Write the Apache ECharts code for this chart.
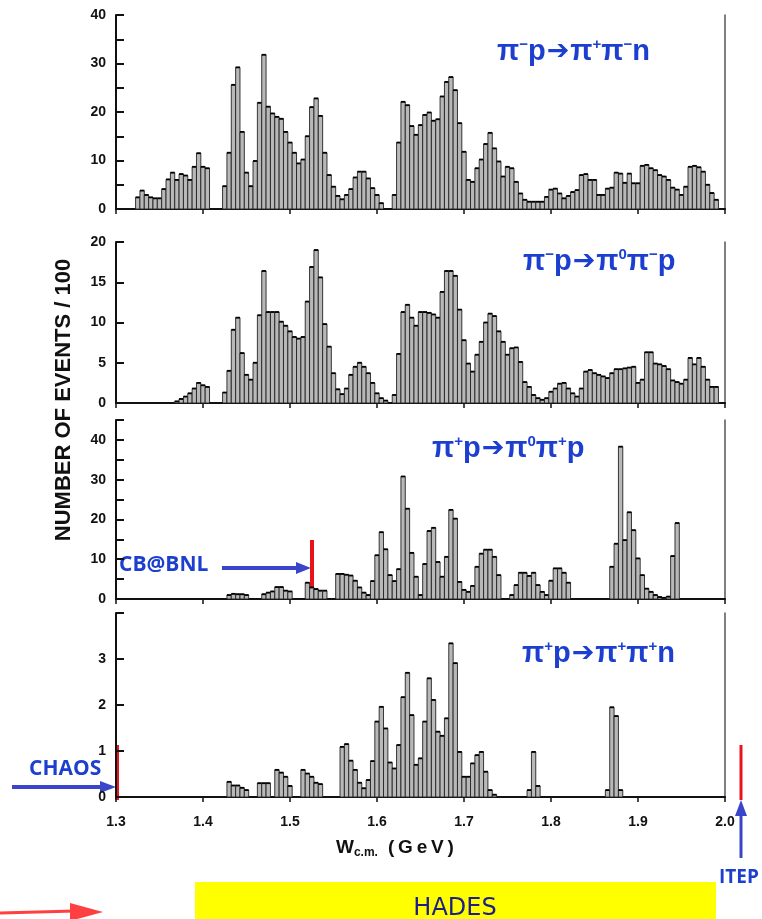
<!DOCTYPE html>
<html><head><meta charset="utf-8">
<script src="https://cdn.jsdelivr.net/npm/echarts@6/dist/echarts.min.js"></script>
<style>html,body{margin:0;padding:0;background:#fff}#c{width:762px;height:919px}</style>
</head><body><div id="c"></div>
<script>
// ---- histogram bins: centre of bin n = binStart + n*binWidth (GeV)
const binStart = 1.325;
const binWidth = 0.005;
const xMin = 1.3, xMax = 2.0, xStep = 0.1;

// Panel 1: pi- p -> pi+ pi- n   (events/100)
const p1Counts = [
 2.4,3.8,2.9,2.4,2.2,2.2,4.1,6.1,7.5,6.0,7.2,6.9,6.0,8.7,11.5,8.7,8.4,
 0,0,0,
 4.7,11.6,25.6,29.2,15.9,7.5,4.7,9.9,21.9,31.8,21.1,19.7,19.0,18.6,15.9,13.7,11.6,9.4,10.2,15.0,
 21.0,22.8,19.2,11.6,7.0,4.6,2.7,2.0,2.9,4.1,6.5,7.7,7.7,6.3,4.3,2.9,1.2,
 0,0,
 2.9,13.7,22.1,21.4,17.1,15.3,17.3,19.4,19.9,18.2,18.5,23.2,26.2,27.2,24.5,17.7,11.8,6.0,5.6,8.4,
 10.2,13.4,15.7,12.5,9.8,6.7,8.7,8.4,5.6,3.2,1.9,1.5,1.5,1.5,1.5,2.5,4.0,4.2,3.2,2.2,
 2.7,3.5,3.9,7.0,7.2,6.0,6.0,2.9,2.9,4.2,4.4,7.5,7.3,5.4,7.3,5.3,5.3,8.9,9.1,8.4,
 8.0,7.0,6.7,6.0,4.4,4.0,2.9,4.6,8.7,8.9,8.6,7.7,5.0,3.3,1.9,
 0
];
// Panel 2: pi- p -> pi0 pi- p
const p2Counts = [
 0,0,0,0,0,0,0,0,0,
 0.2,0.5,0.8,1.2,1.8,2.5,2.2,2.0,
 0,0,0,
 1.3,4.0,9.1,10.6,6.2,3.5,2.9,5.0,10.9,16.4,11.3,11.3,11.3,10.1,9.6,8.9,8.2,8.0,8.2,12.6,
 16.9,19.0,15.6,9.8,7.0,3.7,1.7,1.1,1.8,3.5,4.5,5.0,4.5,3.7,2.5,1.2,0.6,0.3,
 0,
 1.0,6.1,11.3,12.2,10.6,9.6,11.3,11.3,11.2,11.0,10.6,13.8,16.4,16.4,15.8,11.6,7.8,4.9,3.9,6.0,
 7.6,10.0,11.1,10.8,8.9,7.6,6.0,6.8,6.9,5.1,2.6,2.0,1.0,0.6,0.4,0.6,1.4,1.8,2.4,2.5,
 1.8,1.2,0.8,1.8,3.9,4.1,3.7,3.5,3.3,3.1,3.7,4.2,4.2,4.3,4.4,4.5,2.5,2.9,6.3,6.3,
 4.9,4.8,4.6,4.2,2.8,2.6,2.4,2.9,5.6,4.8,5.6,4.5,2.9,2.0,2.0,
 0
];
// Panel 3: pi+ p -> pi0 pi+ p
const p3Counts = [
 0,0,0,0,0,0,0,0,0,0,0,0,0,0,0,0,0,0,0,0,0,
 1.0,1.3,1.2,1.2,1.0,
 0,0,0,
 1.2,1.6,1.9,3.0,3.0,2.1,1.9,
 0,0,0,
 4.1,2.9,2.5,2.1,2.1,
 0,0,
 6.3,6.3,6.1,5.9,4.6,2.9,1.6,1.0,4.5,11.0,16.8,12.5,6.0,4.5,7.5,30.8,22.7,11.6,5.6,1.0,
 8.8,17.1,17.9,9.3,5.6,10.6,22.4,20.2,4.3,2.3,1.8,3.3,8.1,11.4,12.4,12.4,10.6,6.0,
 0,0,
 1.0,3.5,6.6,6.6,5.8,6.6,3.5,1.8,1.0,4.6,7.7,7.7,6.6,4.1,
 0,0,0,0,0,0,0,0,0,
 8.1,13.9,38.3,14.8,21.8,17.3,10.2,6.0,2.6,1.8,1.0,0.5,0.3,0.6,10.8,19.1,
 0,0,0,0,0,0,0,0,0,0
];
// Panel 4: pi+ p -> pi+ pi+ n
const p4Counts = [
 0,0,0,0,0,0,0,0,0,0,0,0,0,0,0,0,0,0,0,0,0,
 0.33,0.25,0.25,0.2,0.15,
 0,0,
 0.3,0.3,0.3,
 0,
 0.59,0.53,0.44,0.24,
 0,0,
 0.59,0.51,0.44,0.31,0.28,
 0,0,0,0,
 1.09,1.15,0.79,0.59,0.31,0.19,0.37,0.78,1.64,1.96,1.49,0.75,0.62,1.13,2.17,2.70,1.78,0.70,
 0.84,1.64,2.58,2.11,1.42,1.33,1.71,3.34,2.91,0.98,0.44,0.44,0.73,0.91,0.98,0.55,0.15,0.05,
 0,0,0,0,0,0,0,
 0.15,0.98,0.24,
 0,0,0,0,0,0,0,0,0,0,0,0,0,0,0,
 0.15,1.95,1.76,0.15,
 0,0,0,0,0,0,0,0,0,0,0,0,0,0,0,0,0,0,0,0,0,0,0
];

const panelCounts = [p1Counts, p2Counts, p3Counts, p4Counts];
const yMaxes = [40, 20, 45, 4];
const yTickSteps = [5, 5, 5, 1];
const yLabelSteps = [10, 5, 10, 1];
const yLabelMax = [40, 20, 40, 3];
const reactionTexts = [
 '{t|π}{s|−}{t|p}{a|➔}{t|π}{s|+}{t|π}{s|−}{t|n}',
 '{t|π}{s|−}{t|p}{a|➔}{t|π}{s|0}{t|π}{s|−}{t|p}',
 '{t|π}{s|+}{t|p}{a|➔}{t|π}{s|0}{t|π}{s|+}{t|p}',
 '{t|π}{s|+}{t|p}{a|➔}{t|π}{s|+}{t|π}{s|+}{t|n}'
];

// ---- layout
const gridTops = [15, 242, 420, 613];
const gridHeights = [194, 161, 179, 184];
const labelPos = [[497, 37], [523, 247], [432, 434], [522, 639]];
const BLUE = '#1d3fd0';
const RED = '#e8141b';
const FONT = 'Liberation Sans, Arial, sans-serif';

const chart = echarts.init(document.getElementById('c'), null, {renderer: 'canvas'});

const grids = [], xAxes = [], yAxes = [], series = [];
panelCounts.forEach((counts, i) => {
  grids.push({left: 116, right: 37, top: gridTops[i], height: gridHeights[i], containLabel: false});
  xAxes.push({
    type: 'value', gridIndex: i, min: xMin, max: xMax, interval: xStep,
    axisLine: {show: true, onZero: false, lineStyle: {color: '#111', width: 2}},
    axisTick: {show: true, length: 5, lineStyle: {color: '#111', width: 1.5}},
    axisLabel: {show: i === 3, margin: 18, color: '#111', fontSize: 14, fontWeight: 'bold', fontFamily: FONT,
      formatter: v => v.toFixed(1)},
    splitLine: {show: false}
  });
  yAxes.push({
    type: 'value', gridIndex: i, position: 'left', min: 0, max: yMaxes[i], interval: yTickSteps[i],
    axisLine: {show: true, lineStyle: {color: '#111', width: 2}},
    axisTick: {show: true, inside: true, length: 8, lineStyle: {color: '#111', width: 2}},
    axisLabel: {margin: 10, color: '#111', fontSize: 14, fontWeight: 'bold', fontFamily: FONT,
      formatter: v => (Math.abs(v % yLabelSteps[i]) < 1e-9 && v <= yLabelMax[i]) ? String(v) : ''},
    splitLine: {show: false}
  });
  yAxes.push({
    type: 'value', gridIndex: i, position: 'right', min: 0, max: yMaxes[i], interval: yTickSteps[i],
    axisLine: {show: true, lineStyle: {color: '#555', width: 1.5}},
    axisTick: {show: false}, axisLabel: {show: false}, splitLine: {show: false}
  });
  const data = [];
  counts.forEach((v, n) => { if (v > 0) data.push([binStart + binWidth * n, v]); });
  series.push({
    type: 'custom', xAxisIndex: i, yAxisIndex: 2 * i, data: data,
    encode: {x: 0, y: 1}, clip: false, silent: true,
    renderItem: function (params, api) {
      const c = api.value(0), v = api.value(1);
      const a = api.coord([c - binWidth / 2, 0]);
      const b = api.coord([c + binWidth / 2, v]);
      return {type: 'group', children: [
        {type: 'rect', shape: {x: a[0], y: b[1], width: b[0] - a[0], height: a[1] - b[1]},
         style: {fill: '#b8b8b8', stroke: '#222', lineWidth: 0.9}},
        {type: 'line', shape: {x1: a[0], y1: b[1], x2: b[0], y2: b[1]},
         style: {stroke: '#000', lineWidth: 1.8}}
      ]};
    }
  });
});

const richStyles = {
  t: {fontSize: 29, fontWeight: 'bold', fill: BLUE, fontFamily: FONT},
  s: {fontSize: 15, fontWeight: 'bold', fill: BLUE, fontFamily: FONT, verticalAlign: 'top', lineHeight: 16},
  a: {fontSize: 27, fontWeight: 'bold', fill: BLUE, fontFamily: 'DejaVu Sans', padding: [0, 1, 0, 1]}
};

const graphics = [];
reactionTexts.forEach((txt, i) => {
  graphics.push({type: 'text', left: labelPos[i][0], top: labelPos[i][1],
    style: {text: txt, rich: richStyles}});
});
// y-axis title
graphics.push({type: 'text', x: 64, y: 400, rotation: Math.PI / 2,
  style: {text: 'NUMBER OF EVENTS / 100', fontSize: 22, fontWeight: 'bold', fill: '#111',
    fontFamily: FONT, align: 'center', verticalAlign: 'middle'}});
// x-axis title
graphics.push({type: 'text', left: 336, top: 838,
  style: {text: '{w|W}{s|c.m.}   {w|(\u2009G\u2009e\u2009V\u2009)}', rich: {
    w: {fontSize: 19, fontWeight: 'bold', fill: '#111', fontFamily: FONT},
    s: {fontSize: 12, fontWeight: 'bold', fill: '#111', fontFamily: FONT, verticalAlign: 'bottom', padding: [10, 0, 0, 0]}
  }}});
// CB@BNL annotation
graphics.push({type: 'text', left: 119, top: 555,
  style: {text: 'CB@BNL', fontSize: 21, fontWeight: 'bold', fill: BLUE, fontFamily: 'Open Sans, ' + FONT}});
graphics.push({type: 'line', shape: {x1: 222, y1: 568, x2: 300, y2: 568}, style: {stroke: '#3a45c9', lineWidth: 4}});
graphics.push({type: 'polygon', shape: {points: [[296, 562], [311, 568], [296, 574]]}, style: {fill: '#3a45c9'}});
graphics.push({type: 'line', shape: {x1: 312, y1: 540, x2: 312, y2: 594}, style: {stroke: RED, lineWidth: 4}});
// CHAOS annotation
graphics.push({type: 'text', left: 29, top: 759,
  style: {text: 'CHAOS', fontSize: 21, fontWeight: 'bold', fill: BLUE, fontFamily: 'Open Sans, ' + FONT}});
graphics.push({type: 'line', shape: {x1: 12, y1: 787, x2: 104, y2: 787}, style: {stroke: '#3a45c9', lineWidth: 4}});
graphics.push({type: 'polygon', shape: {points: [[100, 781], [116, 787], [100, 793]]}, style: {fill: '#3a45c9'}});
graphics.push({type: 'line', shape: {x1: 117, y1: 745, x2: 117, y2: 800}, style: {stroke: RED, lineWidth: 4}});
// ITEP annotation
graphics.push({type: 'line', shape: {x1: 741, y1: 745, x2: 741, y2: 800}, style: {stroke: RED, lineWidth: 3}});
graphics.push({type: 'line', shape: {x1: 741, y1: 858, x2: 741, y2: 812}, style: {stroke: '#3a45c9', lineWidth: 3}});
graphics.push({type: 'polygon', shape: {points: [[735, 816], [741, 800], [747, 816]]}, style: {fill: '#3a45c9'}});
graphics.push({type: 'text', left: 719, top: 868,
  style: {text: 'ITEP', fontSize: 19, fontWeight: 'bold', fill: BLUE, fontFamily: 'Open Sans, ' + FONT}});
// HADES box
graphics.push({type: 'rect', shape: {x: 195, y: 882, width: 521, height: 40}, style: {fill: '#ffff00'}});
graphics.push({type: 'text', x: 455, y: 909,
  style: {text: 'HADES', fontSize: 24, fill: '#1e1e8a', fontFamily: 'DejaVu Sans', align: 'center', verticalAlign: 'middle'}});
// red arrow bottom-left
graphics.push({type: 'line', shape: {x1: 0, y1: 913, x2: 75, y2: 911}, style: {stroke: '#ff4040', lineWidth: 3}});
graphics.push({type: 'polygon', shape: {points: [[70, 903], [103, 912], [70, 921]]}, style: {fill: '#ff4040'}});

chart.setOption({
  animation: false,
  backgroundColor: '#fff',
  grid: grids, xAxis: xAxes, yAxis: yAxes, series: series,
  graphic: graphics
});
</script></body></html>
